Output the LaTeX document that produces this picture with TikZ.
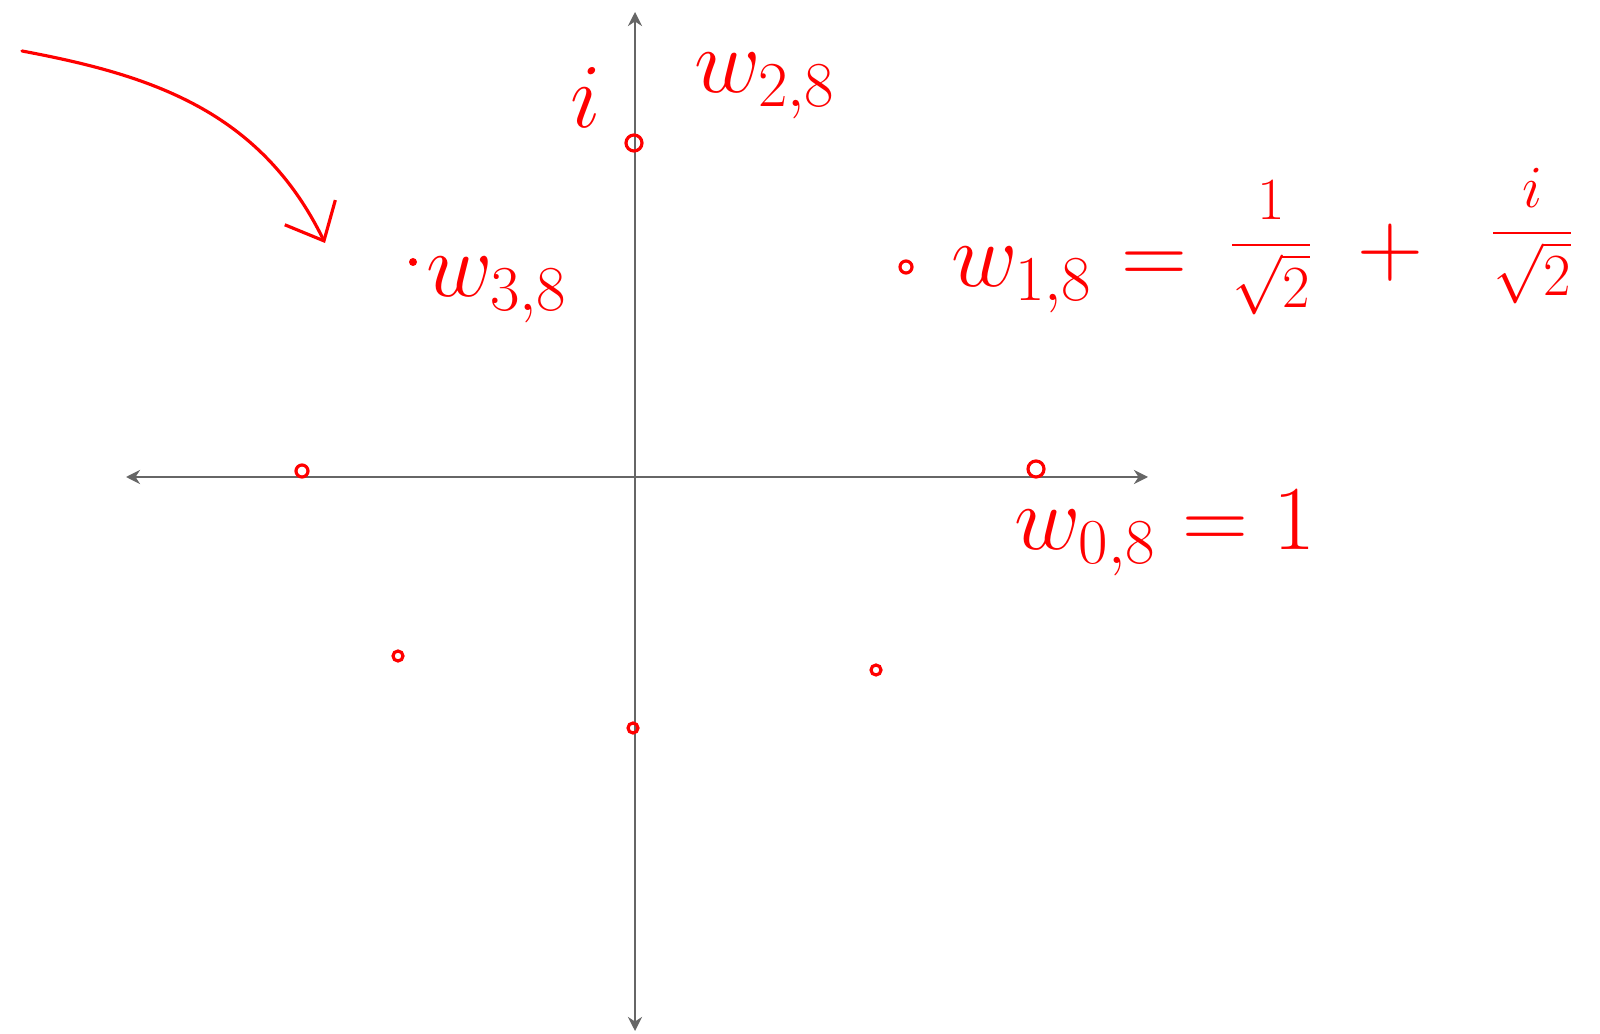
\RequirePackage{fix-cm}
\documentclass[tikz,border=0pt]{standalone}
\usepackage{amsmath, amssymb}
\usepackage{xcolor}
\usepackage{tikz}
\usetikzlibrary{calc, arrows.meta}

\definecolor{ink}{RGB}{255,0,0}
\definecolor{axisgray}{RGB}{102,102,102}

\begin{document}
\begin{tikzpicture}[x=0.01cm, y=-0.01cm,
    axis/.style={draw=axisgray, line width=0.8pt, {Stealth[length=4pt,width=4pt]}-{Stealth[length=4pt,width=4pt]}},
    pen/.style={draw=ink, line width=0.9pt, line cap=round},
    lab/.style={text=ink, inner sep=0pt, font=\fontsize{26}{30}\selectfont},
    frac/.style={text=ink, inner sep=0pt, font=\fontsize{17}{20}\selectfont}]
    \useasboundingbox (0,0) rectangle (1600,1034);

    % Axes
    \coordinate (xl) at (126,477);
    \coordinate (xr) at (1148,477);
    \coordinate (yt) at (635,12);
    \coordinate (yb) at (635,1031);
    \draw[axis] (xl) -- (xr);
    \draw[axis] (yt) -- (yb);

    % The 8th roots of unity
    \coordinate (r0) at (1036,469);
    \coordinate (r1) at (906,267);
    \coordinate (r2) at (634,143);
    \coordinate (r3) at (413,262);
    \coordinate (r4) at (302,471);
    \coordinate (r5) at (398,656);
    \coordinate (r6) at (633,728);
    \coordinate (r7) at (876,670);
    \foreach \p/\r in {r0/8, r1/6, r2/8, r4/6, r5/5, r6/5, r7/5}
        \draw[pen] (\p) circle[radius=\r];
    \fill[ink] (r3) circle[radius=4];

    % Labels
    \node[lab] (li) at (586,98) {$i$};
    \node[lab] (l2) at (765,86) {$w_{2,8}$};
    \node[lab] (l3) at (497,290) {$w_{3,8}$};
    \node[lab] (l1) at (1022,280) {$w_{1,8}$};
    \node[lab] (eq) at (1154,268) {$=$};
    \node[frac] (f1) at (1271,248) {$\dfrac{1}{\sqrt{2}}$};
    \node[lab] (pl) at (1390,253) {$+$};
    \node[frac] (f2) at (1532,236) {$\dfrac{i}{\sqrt{2}}$};
    \node[lab] (l0) at (1165,533) {$w_{0,8} = 1$};

    % Curved arrow
    \coordinate (tail) at (22,51);
    \coordinate (head) at (325,243);
    \draw[pen, -{Straight Barb[length=9pt,width=16pt]}] (tail)
        .. controls (150,75) and (260,110) .. (head);
\end{tikzpicture}
\end{document}
